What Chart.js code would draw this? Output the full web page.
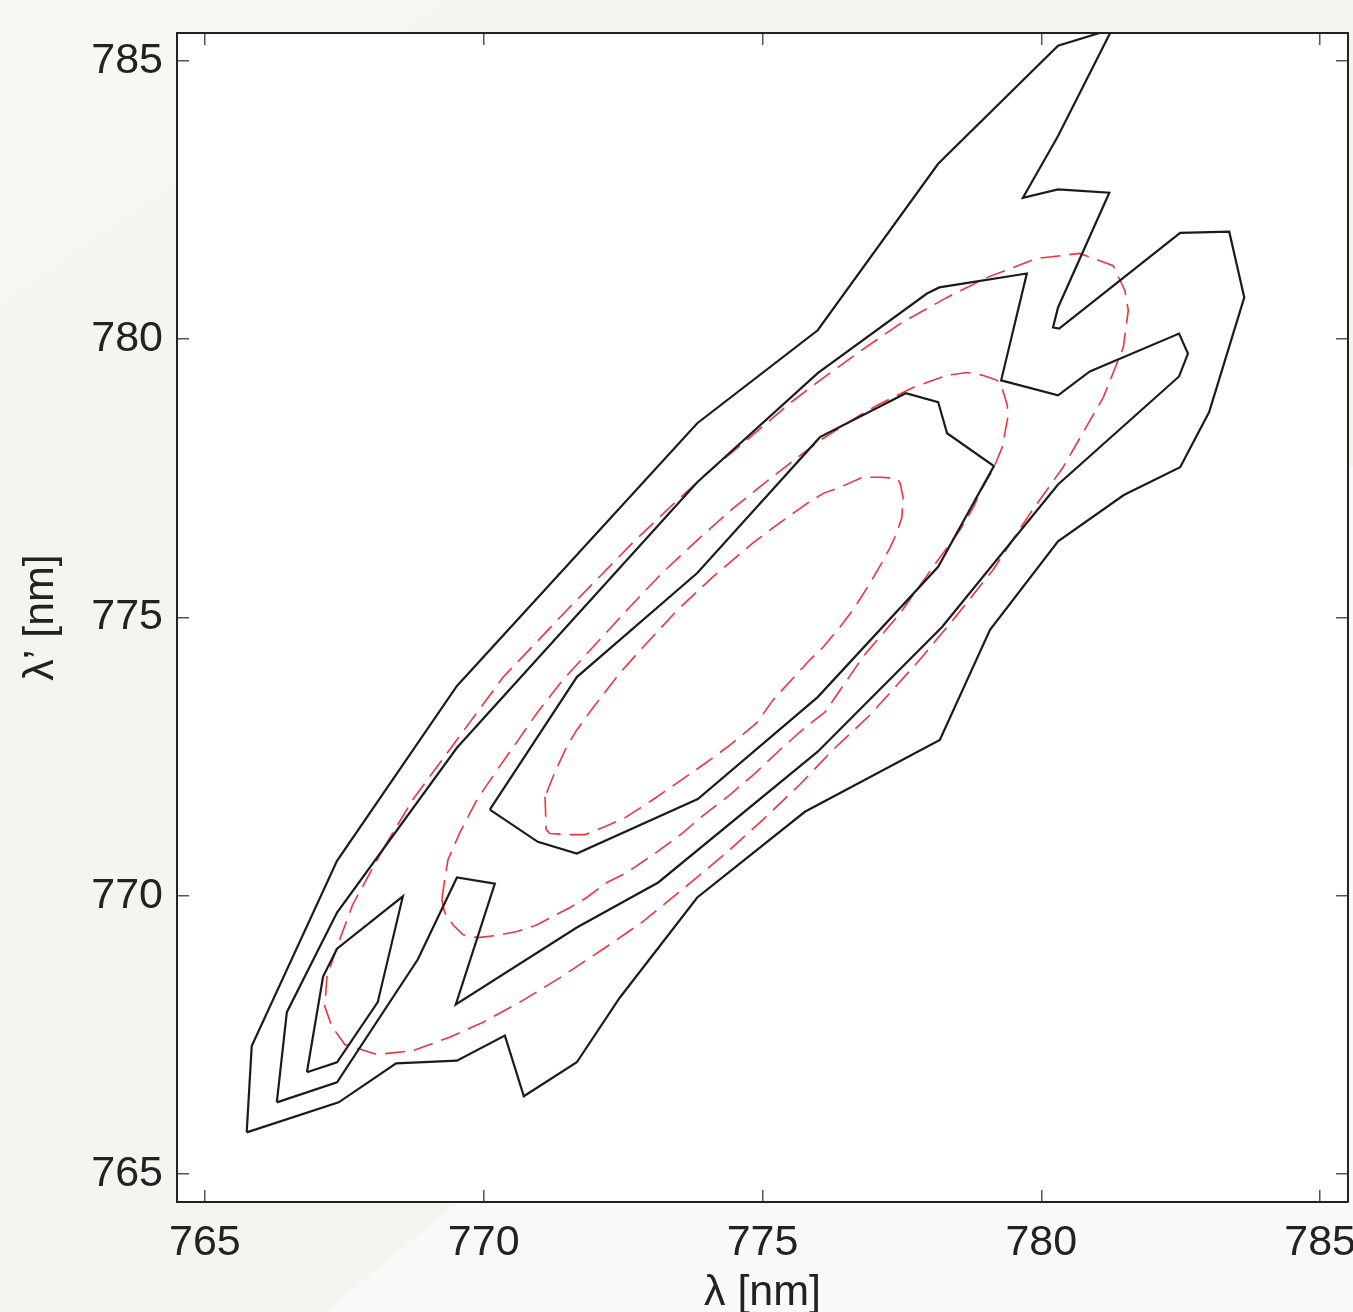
<!DOCTYPE html>
<html>
<head>
<meta charset="utf-8">
<script src="https://cdn.jsdelivr.net/npm/chart.js@4.4.1/dist/chart.umd.min.js"></script>
<style>
  html, body { margin: 0; padding: 0; width: 1353px; height: 1312px; overflow: hidden; background: #f5f4ee; }
  .shade { position: absolute; left: 0; top: 0; width: 1353px; height: 1312px; }
  #topCorner { background: #f8f7f2; clip-path: polygon(0 0, 447px 0, 0 303px); }
  #lightCorner { background: #f8f9f8; clip-path: polygon(325px 1312px, 1353px 466px, 1353px 1312px); }
  #wrap { position: absolute; left: 0; top: 0; }
</style>
</head>
<body>
<div class="shade" id="topCorner"></div>
<div class="shade" id="lightCorner"></div>
<div id="wrap"><canvas id="contourChart" width="1353" height="1340"></canvas></div>
<script>
// tick positions (nm)
const xTicks = [765, 770, 775, 780, 785];
const yTicks = [765, 770, 775, 780, 785];

// black solid contours
const outerX = [765.75, 765.84, 767.37, 769.52, 773.83, 775.99, 778.15, 780.30, 781.27, 780.30, 779.67, 780.30,
  781.22, 780.30, 780.21, 780.32, 782.49, 783.37, 783.64, 783.01, 782.49, 781.48, 780.30, 779.08, 778.18,
  775.76, 773.83, 772.44, 771.67, 770.72, 770.38, 769.52, 768.43, 767.40, 765.75];
const outerY = [765.75, 767.30, 770.63, 773.77, 778.49, 780.16, 783.15, 785.27, 785.57, 783.65, 782.54, 782.69,
  782.63, 780.57, 780.21, 780.19, 781.91, 781.93, 780.75, 778.69, 777.70, 777.20, 776.37, 774.78, 772.80,
  771.51, 769.97, 768.17, 767.01, 766.40, 767.49, 767.04, 766.99, 766.29, 765.75];

const middleX = [766.29, 766.47, 767.37, 769.52, 773.83, 775.99, 777.95, 778.17, 779.74, 779.28, 780.30, 780.87,
  782.47, 782.63, 782.47, 780.30, 778.22, 775.99, 773.13, 771.67, 769.50, 770.20, 769.52, 768.82, 767.37, 766.29];
const middleY = [766.29, 767.91, 769.70, 772.66, 777.43, 779.39, 780.82, 780.93, 781.18, 779.26, 778.99, 779.42,
  780.10, 779.74, 779.33, 777.39, 774.83, 772.59, 770.24, 769.43, 768.05, 770.22, 770.33, 768.86, 766.65, 766.29];

const innerX = [770.11, 770.97, 771.67, 773.84, 775.99, 778.15, 779.15, 778.31, 778.15, 777.57, 776.03, 773.83, 771.67, 770.11];
const innerY = [771.55, 770.97, 770.76, 771.74, 773.57, 775.91, 777.72, 778.31, 778.87, 779.03, 778.24, 775.80, 773.93, 771.55];

const lobeX = [766.83, 767.12, 767.37, 768.55, 768.10, 767.37, 766.83];
const lobeY = [766.83, 768.55, 769.05, 769.99, 768.09, 767.01, 766.83];

// red dashed contours
const redOuterX = [768.19, 768.73, 769.48, 770.35, 771.49, 772.68, 773.34, 774.00, 774.78, 775.49, 776.03, 776.69,
  777.47, 778.31, 779.03, 779.92, 780.69, 781.29, 781.50, 781.56, 781.47, 781.11, 780.69, 780.39, 779.80, 779.13,
  778.42, 777.82, 776.93, 776.26, 775.67, 775.01, 774.36, 773.52, 772.86, 772.21, 771.37, 770.65, 769.99, 769.39,
  768.73, 768.09, 767.51, 767.28, 767.15, 767.19, 767.42, 767.65, 768.19];
const redOuterY = [770.83, 771.73, 772.75, 773.93, 775.13, 776.35, 776.98, 777.59, 778.24, 778.85, 779.26, 779.74,
  780.28, 780.75, 781.11, 781.45, 781.54, 781.32, 780.87, 780.52, 779.85, 778.95, 778.22, 777.70, 776.87, 775.85,
  774.96, 774.24, 773.25, 772.62, 772.00, 771.37, 770.78, 770.08, 769.54, 769.09, 768.53, 768.09, 767.73, 767.46,
  767.22, 767.15, 767.33, 767.65, 768.01, 768.55, 769.22, 769.84, 770.83];

const redMiddleX = [769.25, 769.30, 769.36, 769.57, 769.88, 770.24, 770.60, 770.96, 771.42, 771.96, 772.62, 773.22,
  773.83, 774.47, 775.26, 776.03, 776.69, 777.05, 777.70, 778.31, 778.67, 778.95, 779.21, 779.31, 779.39, 779.40,
  779.35, 779.30, 779.13, 778.95, 778.78, 778.54, 778.06, 777.47, 776.80, 776.12, 775.76, 775.31, 774.83, 774.42,
  773.88, 773.57, 773.11, 772.57, 772.21, 771.85, 771.55, 771.24, 770.96, 770.60, 770.24, 769.90, 769.63, 769.45,
  769.30, 769.25];
const redMiddleY = [769.93, 770.29, 770.65, 771.13, 771.73, 772.26, 772.77, 773.29, 773.88, 774.47, 775.19, 775.82,
  776.39, 776.96, 777.59, 778.18, 778.60, 778.81, 779.13, 779.35, 779.40, 779.35, 779.26, 779.08, 778.81, 778.60,
  778.33, 778.06, 777.65, 777.34, 776.98, 776.57, 775.91, 775.08, 774.29, 773.30, 773.02, 772.62, 772.17, 771.82,
  771.40, 771.13, 770.79, 770.42, 770.24, 769.97, 769.79, 769.63, 769.48, 769.36, 769.29, 769.25, 769.30, 769.48,
  769.70, 769.93];

const redInnerX = [771.10, 771.12, 771.19, 771.51, 771.82, 772.17, 772.53, 773.04, 773.47, 773.93, 774.42, 774.90,
  775.19, 775.85, 776.09, 776.39, 776.66, 776.93, 777.14, 777.29, 777.41, 777.50, 777.52, 777.47, 777.41, 777.11,
  776.80, 776.39, 776.09, 775.80, 775.13, 774.83, 774.11, 773.47, 772.86, 772.44, 771.96, 771.67, 771.49, 771.28, 771.10];
const redInnerY = [771.78, 771.19, 771.12, 771.10, 771.10, 771.24, 771.40, 771.73, 772.03, 772.35, 772.71, 773.11,
  773.52, 774.24, 774.47, 774.83, 775.19, 775.62, 775.98, 776.26, 776.52, 776.80, 777.16, 777.41, 777.50, 777.52,
  777.52, 777.34, 777.23, 777.05, 776.57, 776.34, 775.73, 775.13, 774.47, 774.00, 773.38, 772.98, 772.68, 772.23, 771.78];

function toPoints(xs, ys) {
  return xs.map((x, i) => ({ x: x, y: ys[i] }));
}

const fontFamily = "'Liberation Sans', Arial, Helvetica, sans-serif";
const labelFont = { family: fontFamily, size: 43 };
const textColor = '#222';

const solid = { borderColor: '#1b1b1b', borderWidth: 2.2 };
const dashed = { borderColor: '#ef3340', borderWidth: 1.6, borderDash: [20, 9] };

function contour(xs, ys, style) {
  return Object.assign({
    data: toPoints(xs, ys),
    showLine: true,
    fill: false,
    tension: 0,
    pointRadius: 0,
    pointHoverRadius: 0,
    borderJoinStyle: 'miter'
  }, style);
}

// white plot area, page background stays behind the axes
const plotBackground = {
  id: 'plotBackground',
  beforeDraw(chart) {
    const { ctx, chartArea } = chart;
    ctx.save();
    ctx.fillStyle = '#ffffff';
    ctx.fillRect(chartArea.left, chartArea.top, chartArea.right - chartArea.left, chartArea.bottom - chartArea.top);
    ctx.restore();
  }
};

const tickMarks = { display: true, drawOnChartArea: false, drawTicks: true, tickLength: -12, color: '#555', lineWidth: 1.5 };
const frame = { display: true, color: '#222', width: 2 };

new Chart(document.getElementById('contourChart').getContext('2d'), {
  type: 'scatter',
  data: {
    datasets: [
      contour(outerX, outerY, solid),
      contour(middleX, middleY, solid),
      contour(innerX, innerY, solid),
      contour(lobeX, lobeY, solid),
      contour(redOuterX, redOuterY, dashed),
      contour(redMiddleX, redMiddleY, dashed),
      contour(redInnerX, redInnerY, dashed)
    ]
  },
  options: {
    responsive: false,
    animation: false,
    devicePixelRatio: 1,
    layout: { padding: 0 },
    plugins: { legend: { display: false }, tooltip: { enabled: false } },
    scales: {
      x: {
        type: 'linear', position: 'bottom', min: 764.5, max: 785.5,
        afterBuildTicks: (s) => { s.ticks = xTicks.map(v => ({ value: v })); },
        afterFit: (s) => { s.height = 138; s.paddingLeft = 0; s.paddingRight = 0; },
        grid: tickMarks,
        border: frame,
        ticks: { font: labelFont, color: textColor, padding: 27, maxRotation: 0, autoSkip: false },
        title: { display: true, text: 'λ [nm]', font: labelFont, color: textColor, padding: { top: 0, bottom: 21 } }
      },
      y: {
        type: 'linear', position: 'left', min: 764.5, max: 785.5,
        afterBuildTicks: (s) => { s.ticks = yTicks.map(v => ({ value: v })); },
        afterFit: (s) => { s.width = 177; s.paddingTop = 0; s.paddingBottom = 0; },
        grid: tickMarks,
        border: frame,
        ticks: { font: labelFont, color: textColor, padding: 26, autoSkip: false },
        title: { display: true, text: 'λ’ [nm]', font: labelFont, color: textColor, padding: { top: 15, bottom: 0 } }
      },
      x2: {
        type: 'linear', position: 'top', min: 764.5, max: 785.5,
        afterBuildTicks: (s) => { s.ticks = xTicks.map(v => ({ value: v })); },
        afterFit: (s) => { s.height = 33; s.paddingLeft = 0; s.paddingRight = 0; },
        grid: tickMarks,
        border: frame,
        ticks: { display: false }
      },
      y2: {
        type: 'linear', position: 'right', min: 764.5, max: 785.5,
        afterBuildTicks: (s) => { s.ticks = yTicks.map(v => ({ value: v })); },
        afterFit: (s) => { s.width = 5; s.paddingTop = 0; s.paddingBottom = 0; },
        grid: tickMarks,
        border: frame,
        ticks: { display: false }
      }
    }
  },
  plugins: [plotBackground]
});
</script>
</body>
</html>
